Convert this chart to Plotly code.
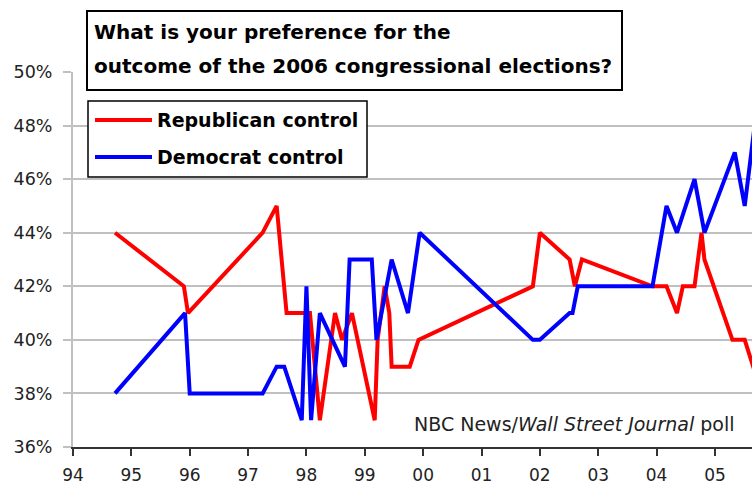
import plotly.graph_objects as go

# ---- data (year as decimal, percent) ----
rep_x = [1994.72, 1995.90, 1995.97, 1997.25, 1997.49, 1997.66, 1997.92, 1998.06,
         1998.23, 1998.49, 1998.61, 1998.78, 1999.17, 1999.22, 1999.34, 1999.42,
         1999.46, 1999.77, 1999.92, 2001.88, 2002.00, 2002.51, 2002.60, 2002.72,
         2003.93, 2004.17, 2004.35, 2004.45, 2004.65, 2004.77, 2004.82, 2005.30,
         2005.51, 2005.80]
rep_y = [44, 42, 41, 44, 45, 41, 41, 41,
         37, 41, 40, 41, 37, 40, 42, 41,
         39, 39, 40, 42, 44, 43, 42, 43,
         42, 42, 41, 42, 42, 44, 43, 40,
         40, 38]

dem_x = [1994.72, 1995.92, 1996.00, 1997.25, 1997.49, 1997.62, 1997.92, 1998.00,
         1998.08, 1998.23, 1998.66, 1998.74, 1999.12, 1999.20, 1999.46, 1999.74,
         1999.94, 2001.88, 2002.00, 2002.51, 2002.56, 2002.65, 2003.93, 2004.17,
         2004.35, 2004.65, 2004.82, 2005.34, 2005.51, 2005.68]
dem_y = [38, 41, 38, 38, 39, 39, 37, 42,
         37, 41, 39, 43, 43, 40, 43, 41,
         44, 40, 40, 41, 41, 42, 42, 45,
         44, 46, 44, 47, 45, 48]

x_tickvals = list(range(1994, 2006))
x_ticktext = ["94", "95", "96", "97", "98", "99", "00", "01", "02", "03", "04", "05"]
y_tickvals = [36, 38, 40, 42, 44, 46, 48, 50]
y_ticktext = ["36%", "38%", "40%", "42%", "44%", "46%", "48%", "50%"]

series_names = ["Republican control", "Democrat control"]
series_colors = ["#ff0000", "#0000ff"]
title_lines = ["What is your preference for the",
               "outcome of the 2006 congressional elections?"]
source_text = "NBC News/<i>Wall Street Journal</i> poll"

# ---- layout geometry (pixels) ----
W, H = 752, 487
L, R, T, B = 73, 0, 72, 40
PW, PH = W - L - R, H - T - B


def px(x):
    return (x - L) / PW


def py(y):
    return (H - B - y) / PH


FONT = "DejaVu Sans"

fig = go.Figure()
fig.add_trace(go.Scatter(x=rep_x, y=rep_y, mode="lines", name=series_names[0],
                         line=dict(color=series_colors[0], width=4), showlegend=False))
fig.add_trace(go.Scatter(x=dem_x, y=dem_y, mode="lines", name=series_names[1],
                         line=dict(color=series_colors[1], width=4), showlegend=False))

shapes = []
annotations = []

# title box
shapes.append(dict(type="rect", xref="paper", yref="paper",
                   x0=px(87), x1=px(622), y0=py(90), y1=py(11),
                   line=dict(color="black", width=2), fillcolor="white", layer="above"))
annotations.append(dict(xref="paper", yref="paper", x=px(92), y=py(32),
                        xanchor="left", yanchor="middle", showarrow=False,
                        text="<b>" + title_lines[0] + "</b>",
                        font=dict(family=FONT, size=20, color="black")))
annotations.append(dict(xref="paper", yref="paper", x=px(92), y=py(66),
                        xanchor="left", yanchor="middle", showarrow=False,
                        text="<b>" + title_lines[1] + "</b>",
                        font=dict(family=FONT, size=20, color="black")))

# legend box
shapes.append(dict(type="rect", xref="paper", yref="paper",
                   x0=px(88), x1=px(367), y0=py(177), y1=py(101),
                   line=dict(color="black", width=1.5), fillcolor="white", layer="above"))
for i, yy in enumerate([120, 157]):
    shapes.append(dict(type="line", xref="paper", yref="paper",
                       x0=px(95), x1=px(152), y0=py(yy), y1=py(yy),
                       line=dict(color=series_colors[i], width=4), layer="above"))
    annotations.append(dict(xref="paper", yref="paper", x=px(155), y=py(yy),
                            xanchor="left", yanchor="middle", showarrow=False,
                            text="<b>" + series_names[i] + "</b>",
                            font=dict(family=FONT, size=19, color="black")))

# source note
annotations.append(dict(xref="paper", yref="paper", x=px(574), y=py(424),
                        xanchor="center", yanchor="middle", showarrow=False,
                        text=source_text,
                        font=dict(family=FONT, size=19, color="#222222")))

fig.update_layout(
    width=W, height=H,
    margin=dict(l=L, r=R, t=T, b=B, pad=0),
    paper_bgcolor="white", plot_bgcolor="white",
    shapes=shapes, annotations=annotations,
    showlegend=False,
    xaxis=dict(range=[1994, 2005.635], tickvals=x_tickvals, ticktext=x_ticktext,
               showgrid=False, zeroline=False, showline=True, linecolor="#333333",
               linewidth=2, ticks="outside", ticklen=7, tickwidth=2, tickcolor="#333333",
               tickfont=dict(family=FONT, size=17, color="#222222"),
               ticklabelstandoff=5, automargin=False, fixedrange=True),
    yaxis=dict(range=[36, 50], tickvals=y_tickvals, ticktext=y_ticktext,
               showgrid=True, gridcolor="#c0c0c0", gridwidth=2, zeroline=False,
               showline=True, linecolor="#c0c0c0", linewidth=2,
               ticks="outside", ticklen=8, tickwidth=2, tickcolor="#c0c0c0",
               tickfont=dict(family=FONT, size=17.5, color="#222222"),
               ticklabelstandoff=7, automargin=False, fixedrange=True),
)

fig.write_html("out.html")
